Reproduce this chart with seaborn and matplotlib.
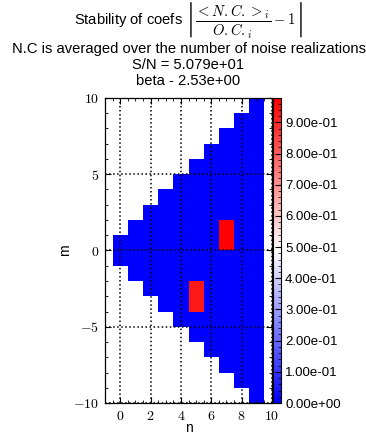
import numpy as np
import pandas as pd
import matplotlib
matplotlib.use("Agg")
import matplotlib.pyplot as plt
from matplotlib.ticker import MultipleLocator, FuncFormatter, FormatStrFormatter
import seaborn as sns

# Zernike-style coefficients: radial order n, azimuthal order m (n - |m| even)
n_orders = list(range(0, 10))
# coefficients whose stability stands out; every other coefficient sits at the baseline
highlight_n = [7, 5]
highlight_m = [1, -3]
highlight_val = [0.978, 0.93]
baseline_val = 0.0

cbar_ticks = [0.0, 0.1, 0.2, 0.3, 0.4, 0.5, 0.6, 0.7, 0.8, 0.9]
title_lines = [
    r"Stability of coefs $\left|\dfrac{<N.C.>_i}{O.C._i}-1\right|$",
    "N.C is averaged over the number of noise realizations",
    "S/N = 5.079e+01",
    "beta - 2.53e+00",
]

plt.rcParams["font.family"] = ["Liberation Sans", "DejaVu Sans"]
plt.rcParams["mathtext.fontset"] = "cm"

# Each coefficient cell is centred on m and spans m-1..m+1, so the table is
# laid out on unit rows [k, k+1] (top row first) and unit columns per n.
n_cols = list(range(-1, 11))          # empty margin columns on both sides
m_rows = list(range(9, -11, -1))      # lower edge k of each unit row
grid = np.full((len(m_rows), len(n_cols)), np.nan)

values = {(n, m): baseline_val for n in n_orders for m in range(-n, n + 1, 2)}
for n, m, v in zip(highlight_n, highlight_m, highlight_val):
    values[(n, m)] = v

for (n, m), v in values.items():
    j = n_cols.index(n)
    for k in (m - 1, m):
        grid[m_rows.index(k), j] = v

df = pd.DataFrame(grid, index=m_rows, columns=n_cols)

fig = plt.figure(figsize=(3.66, 4.38), dpi=100)
ax = fig.add_axes([105 / 366, 35 / 438, 167 / 366, 305 / 438])
cax = fig.add_axes([273 / 366, 35 / 438, 8 / 366, 305 / 438])

sns.heatmap(df, ax=ax, cbar_ax=cax, cmap="bwr",
            xticklabels=False, yticklabels=False)

# heatmap x = n + 1.5, heatmap y = 10 - m
ax.set_xlim(0.5, 11.5)
ax.set_ylim(20, 0)

for s in ax.spines.values():
    s.set_visible(True)
    s.set_color("k")
    s.set_linewidth(0.9)

ax.xaxis.set_major_locator(MultipleLocator(2, offset=1.5))
ax.xaxis.set_minor_locator(MultipleLocator(0.5))
ax.xaxis.set_major_formatter(FuncFormatter(lambda x, p: f"${x - 1.5:.0f}$"))
ax.yaxis.set_major_locator(MultipleLocator(5))
ax.yaxis.set_minor_locator(MultipleLocator(1))
ax.yaxis.set_major_formatter(FuncFormatter(lambda y, p: f"${10 - y:.0f}$"))

ax.tick_params(which="both", direction="in", top=True, right=True,
               labeltop=False, labelright=False, colors="k", labelsize=10)
ax.tick_params(which="major", length=4, width=0.8, pad=4)
ax.tick_params(which="minor", length=2, width=0.6)
for t in ax.get_yticklabels():
    t.set_rotation(0)

ax.set_axisbelow(False)
ax.grid(True, which="major", color="k", linestyle=":", linewidth=1.1)

ax.set_xlabel("n", fontsize=10, labelpad=-1)
ax.set_ylabel("m", fontsize=10, labelpad=1)
ax.set_title("\n".join(title_lines), fontsize=10.6, pad=9)

cbar = ax.collections[0].colorbar
cbar.outline.set_linewidth(0.8)
cbar.outline.set_edgecolor("k")
cbar.set_ticks(cbar_ticks)
cbar.ax.yaxis.set_major_formatter(FormatStrFormatter("%.2e"))
cbar.ax.yaxis.set_minor_locator(MultipleLocator(0.02))
cbar.ax.tick_params(which="both", direction="in", labelsize=9.5, colors="k")
cbar.ax.tick_params(which="major", length=4, width=0.8, pad=3)
cbar.ax.tick_params(which="minor", length=2, width=0.5)

fig.savefig("out.png", dpi=100)
